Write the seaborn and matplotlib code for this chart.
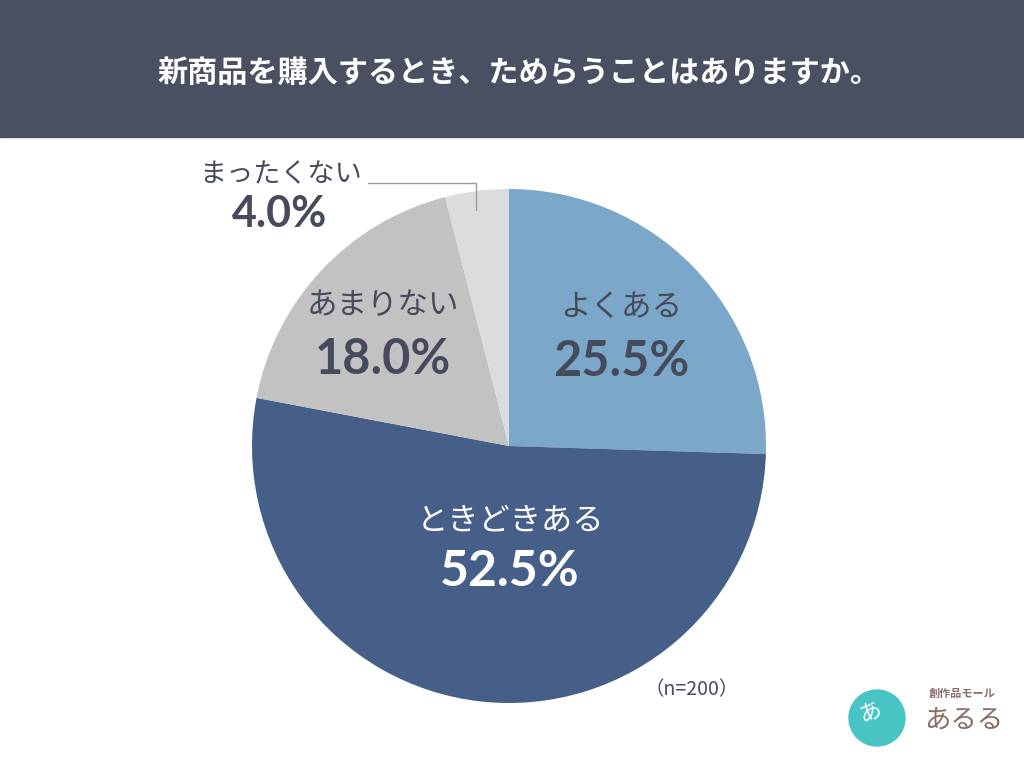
import matplotlib
matplotlib.use("Agg")
import matplotlib.pyplot as plt
import seaborn as sns
from matplotlib.patches import Rectangle, Circle

# data
categories = ["よくある", "ときどきある", "あまりない", "まったくない"]
shares = [25.5, 52.5, 18.0, 4.0]
title = "新商品を購入するとき、ためらうことはありますか。"
note = "（n=200）"

sns.set_theme(style="white")
plt.rcParams['font.family'] = ['Noto Sans CJK JP', 'DejaVu Sans']

colors = ["#7ba7c8", "#455f88", "#c2c2c2", "#dcdcdc"]
text_dark = "#464b5c"

W, H = 1024, 768
def Y(py):
    return H - py

fig = plt.figure(figsize=(10.24, 7.68), dpi=100)
ax = fig.add_axes([0, 0, 1, 1])
ax.set_xlim(0, W)
ax.set_ylim(0, H)
ax.set_aspect('equal')
ax.axis('off')

# header band
ax.add_patch(Rectangle((0, Y(137)), W, 137, color="#4a5061", zorder=0))
ax.text(519, Y(73), title, color="white", fontsize=21.7, fontweight="bold",
        ha="center", va="center")

# pie
ax.pie(shares, colors=colors, startangle=90, counterclock=False,
       center=(509, Y(446)), radius=257, frame=True,
       wedgeprops=dict(linewidth=0))
ax.set_xlim(0, W)
ax.set_ylim(0, H)
ax.axis('off')

# label layout (pixel coords: x, name y, value y, sizes, colour)
layout = [
    (621, 308, 362, 22, 35, text_dark),
    (510, 520, 572, 22.5, 36, "white"),
    (383, 306, 360, 22, 35, text_dark),
    (280, 175, 214, 19.5, 31, text_dark),
]
for name, val, (x, ny, vy, ns, vs, c) in zip(categories, shares, layout):
    ax.text(x, Y(ny), name, color=c, fontsize=ns, ha="center", va="center")
    ax.text(x, Y(vy), f"{val:.1f}%", color=c, fontsize=vs, fontweight="bold",
            ha="center", va="center", family=["Lato", "DejaVu Sans"])

# leader line for the small slice
ax.plot([368, 476, 476], [Y(183), Y(183), Y(210)], color="#9a9a9a", lw=1)

ax.text(692, Y(690), note, color=text_dark, fontsize=14, ha="center", va="center")

# logo
ax.add_patch(Circle((877, Y(718)), 28, color="#48c4c4", zorder=3))
ax.text(870, Y(712), "あ", color="white", fontsize=16, ha="center", va="center",
        rotation=20, zorder=4)
ax.text(962, Y(693), "創作品モール", color="#8a6e64", fontsize=8,
        fontweight="bold", ha="center", va="center")
ax.text(964, Y(720), "あるる", color="#8a6e64", fontsize=19, ha="center",
        va="center")

fig.savefig("out.png", dpi=100)
